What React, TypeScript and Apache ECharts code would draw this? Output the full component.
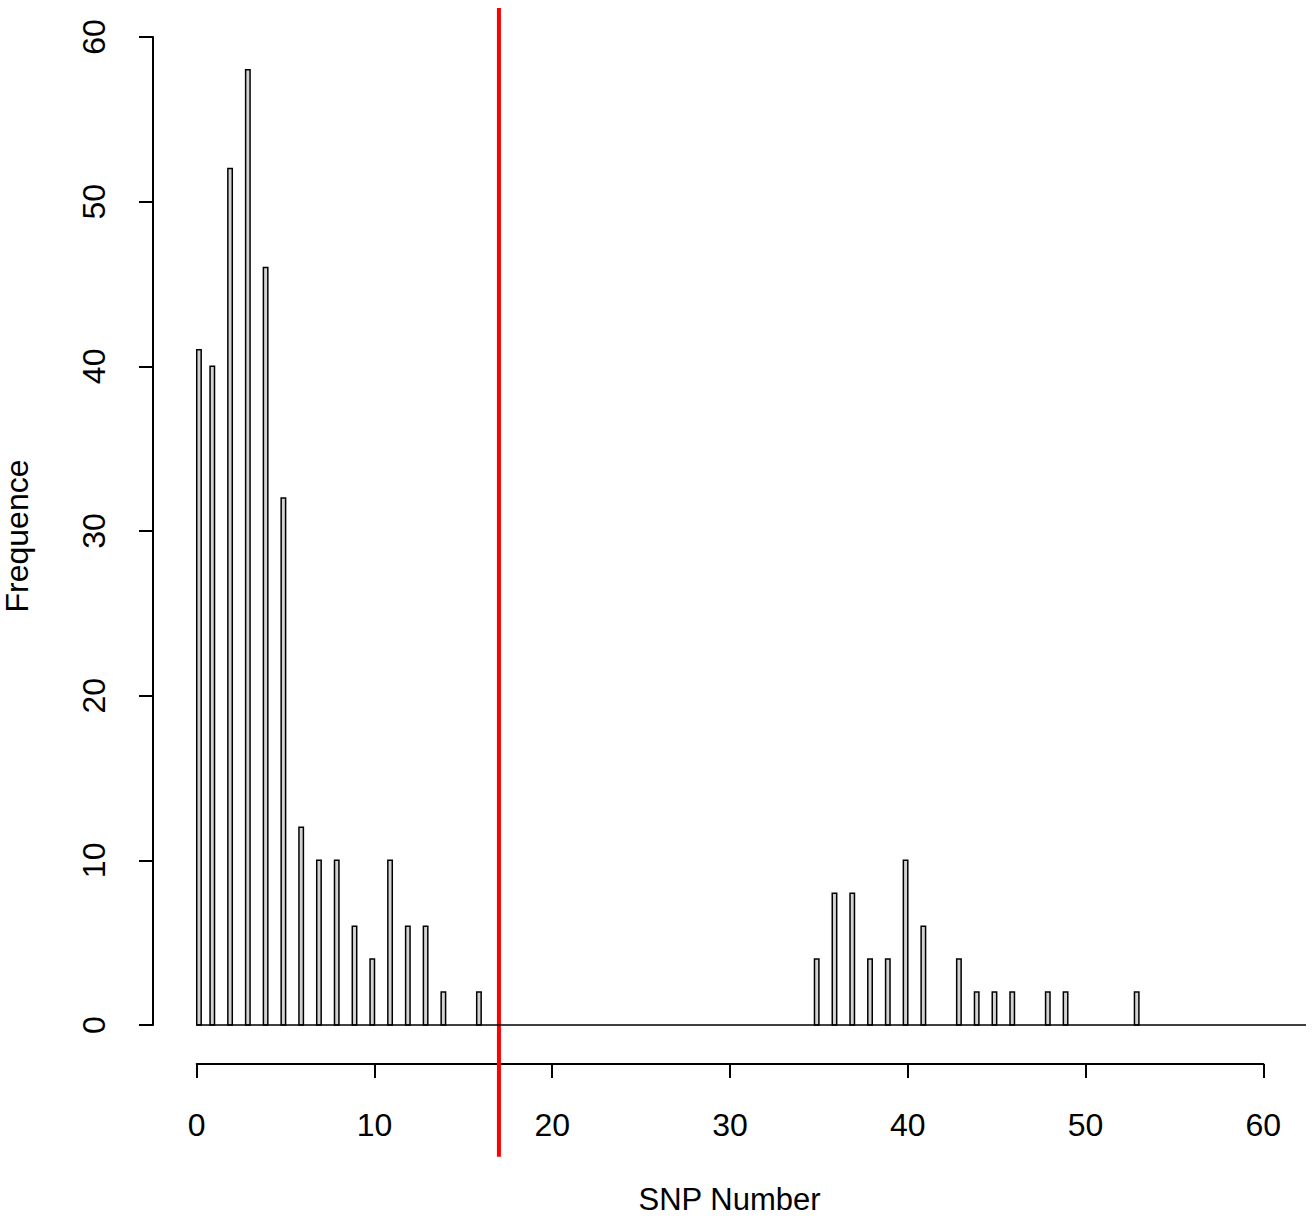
import React, { useEffect, useRef } from "react";
import * as echarts from "echarts";

// SNP number (integer value of each non-empty bin) and its frequency
const snpNumbers = [0, 1, 2, 3, 4, 5, 6, 7, 8, 9, 10, 11, 12, 13, 14, 16, 35, 36, 37, 38, 39, 40, 41, 43, 44, 45, 46, 48, 49, 53];
const frequencies = [41, 40, 52, 58, 46, 32, 12, 10, 10, 6, 4, 10, 6, 6, 2, 2, 4, 8, 8, 4, 4, 10, 6, 4, 2, 2, 2, 2, 2, 2];
const xTickValues = [0, 10, 20, 30, 40, 50, 60];
const yTickValues = [0, 10, 20, 30, 40, 50, 60];
const thresholdSNP = 17;
const binWidth = 0.25;
const histRange = [0, 62.4];
const redLineSpan = [-8, 61.75];

const FONT = "'Liberation Sans', Arial, Helvetica, sans-serif";
const FS = 32;

export default function App() {
  const ref = useRef<HTMLDivElement>(null);
  useEffect(() => {
    if (!ref.current) return;
    const chart = echarts.init(ref.current, null, { renderer: "svg" });
    const barData = snpNumbers.map((v, i) => [v, frequencies[i]]);
    const xMin = xTickValues[0];
    const xMax = xTickValues[xTickValues.length - 1];
    const yMin = yTickValues[0];
    const yMax = yTickValues[yTickValues.length - 1];
    const axisLine = { show: true, lineStyle: { color: "#000", width: 2 } };
    const axisTick = { show: true, inside: false, length: 14, lineStyle: { color: "#000", width: 2 } };
    const gridBase = { containLabel: false, outerBoundsMode: "none" };
    chart.setOption({
      animation: false,
      backgroundColor: "#fff",
      textStyle: { fontFamily: FONT },
      grid: [
        { ...gridBase, left: 153, top: 8, width: 1153, height: 1056 },
        { ...gridBase, left: 196.7, top: 1063, width: 1066.6, height: 1 },
        { ...gridBase, left: 153, top: 37, width: 1, height: 988 },
      ],
      xAxis: [
        {
          gridIndex: 0,
          type: "value",
          min: -2.46,
          max: histRange[1],
          axisLine: { show: false },
          axisTick: { show: false },
          axisLabel: { show: false },
          splitLine: { show: false },
          name: "SNP Number",
          nameLocation: "middle",
          nameGap: 135,
          nameTextStyle: { fontSize: 31, lineHeight: 24, color: "#000", fontFamily: FONT, verticalAlign: "middle" },
        },
        {
          gridIndex: 1,
          type: "value",
          min: xMin,
          max: xMax,
          interval: 10,
          position: "bottom",
          axisLine,
          axisTick,
          axisLabel: { margin: 61, verticalAlign: "middle", fontSize: FS, color: "#000", fontFamily: FONT },
          splitLine: { show: false },
        },
        { gridIndex: 2, type: "value", show: false, min: 0, max: 1 },
      ],
      yAxis: [
        {
          gridIndex: 0,
          type: "value",
          min: -2.37,
          max: redLineSpan[1],
          axisLine: { show: false },
          axisTick: { show: false },
          axisLabel: { show: false },
          splitLine: { show: false },
          name: "Frequence",
          nameLocation: "middle",
          nameRotate: 90,
          nameGap: 136,
          nameTextStyle: { fontSize: FS, lineHeight: 26, color: "#000", fontFamily: FONT, verticalAlign: "middle", align: "center" },
        },
        { gridIndex: 1, type: "value", show: false, min: 0, max: 1 },
        {
          gridIndex: 2,
          type: "value",
          min: yMin,
          max: yMax,
          interval: 10,
          position: "left",
          axisLine,
          axisTick,
          axisLabel: { rotate: 90, margin: 59, align: "center", verticalAlign: "middle", fontSize: FS, color: "#000", fontFamily: FONT },
          splitLine: { show: false },
        },
      ],
      series: [
        {
          type: "line",
          xAxisIndex: 0,
          yAxisIndex: 0,
          data: [[histRange[0], 0], [histRange[1], 0]],
          symbol: "none",
          lineStyle: { color: "#000", width: 1.5 },
          silent: true,
        },
        {
          type: "custom",
          xAxisIndex: 0,
          yAxisIndex: 0,
          data: barData,
          renderItem: (params: any, api: any) => {
            const v = api.value(0);
            const c = api.value(1);
            const x0 = v === 0 ? v : v - binWidth;
            const x1 = x0 + binWidth;
            const p0 = api.coord([x0, 0]);
            const p1 = api.coord([x1, c]);
            return {
              type: "rect",
              shape: { x: p0[0], y: p1[1], width: p1[0] - p0[0], height: p0[1] - p1[1] },
              style: { fill: "#d3d3d3", stroke: "#000", lineWidth: 1.5 },
            };
          },
        },
        {
          type: "custom",
          xAxisIndex: 0,
          yAxisIndex: 0,
          clip: false,
          data: [[thresholdSNP, 0]],
          renderItem: (params: any, api: any) => {
            const v = api.value(0);
            const top = api.coord([v, redLineSpan[1]]);
            const bottom = api.coord([v, redLineSpan[0]]);
            return {
              type: "line",
              shape: { x1: top[0], y1: top[1], x2: bottom[0], y2: bottom[1] },
              style: { stroke: "#ff0000", lineWidth: 4 },
            };
          },
        },
      ],
    });
    return () => chart.dispose();
  }, []);
  return (
    <div
      ref={ref}
      style={{ position: "absolute", left: 0, top: 0, width: 1314, height: 1218, background: "#fff" }}
    />
  );
}
